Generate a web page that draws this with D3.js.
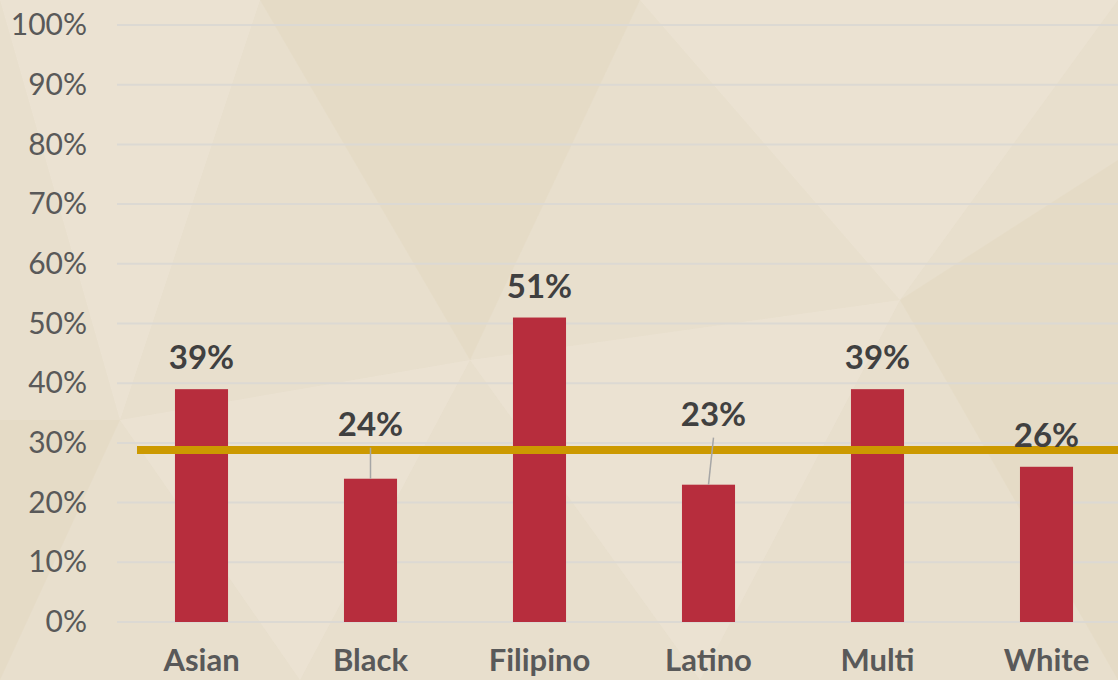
<!DOCTYPE html>
<html>
<head>
<meta charset="UTF-8">
<title>Rates by group</title>
<style>
  html, body { margin: 0; padding: 0; }
  body { width: 1118px; height: 680px; overflow: hidden; background: #e8dfcd; }
  svg { display: block; font-family: "Century Gothic", "URW Gothic", Lato, "DejaVu Sans", sans-serif; }
</style>
</head>
<body>
<svg></svg>
<script src="https://d3js.org/d3.v7.min.js"></script>
<script>
// data
const groups = ["Asian", "Black", "Filipino", "Latino", "Multi", "White"];
const rates = [39, 24, 51, 23, 39, 26];
const average = 28.8;
const yTicks = [0, 10, 20, 30, 40, 50, 60, 70, 80, 90, 100];

const width = 1118, height = 680;
const svg = d3.select("svg").attr("width", width).attr("height", height);

// background with faint facets
const bg = svg.append("g");
bg.append("rect").attr("width", width).attr("height", height).attr("fill", "#e8dfcd");
const facets = [
  [[0, 0], [260, 0], [120, 420]],
  [[260, 0], [640, 0], [470, 360]],
  [[640, 0], [1118, 0], [900, 300]],
  [[0, 420], [120, 420], [0, 680]],
  [[470, 360], [900, 300], [700, 680]],
  [[900, 300], [1118, 160], [1118, 680]],
  [[120, 420], [470, 360], [300, 680]]
];
bg.selectAll("polygon").data(facets).enter().append("polygon")
  .attr("points", d => d.map(p => p.join(",")).join(" "))
  .attr("fill", (d, i) => i % 2 ? "#e2d6bf" : "#efe7d9")
  .attr("opacity", 0.45);

// scales
let x = d3.scaleBand()
  .domain(groups)
  .range([117, 117 + 169 * groups.length])
  .paddingInner(0.686)
  .paddingOuter(0.343);

let y = d3.scaleLinear().domain([0, 100]).range([622, 25]);

// gridlines
svg.append("g").selectAll("line").data(yTicks).enter().append("line")
  .attr("x1", 117).attr("x2", width)
  .attr("y1", d => y(d)).attr("y2", d => y(d))
  .attr("stroke", "#dcd9d3").attr("stroke-width", 2);

// y axis labels
let yAxis = d3.axisLeft(y).tickValues(yTicks).tickFormat(d => d + "%").tickSize(0).tickPadding(0);
let ya = svg.append("g").attr("transform", "translate(87,0)").call(yAxis);
ya.select(".domain").remove();
ya.selectAll("text")
  .attr("font-size", 30).attr("font-weight", 400).attr("fill", "#595959")
  .attr("font-family", "\"Century Gothic\", \"URW Gothic\", Lato, \"DejaVu Sans\", sans-serif");

// bars
svg.append("g").selectAll("rect").data(groups).enter().append("rect")
  .attr("x", d => x(d))
  .attr("width", x.bandwidth())
  .attr("y", (d, i) => y(rates[i]))
  .attr("height", (d, i) => y(0) - y(rates[i]))
  .attr("fill", "#b72d3d");

// average line
svg.append("line")
  .attr("x1", 137).attr("x2", width)
  .attr("y1", y(average)).attr("y2", y(average))
  .attr("stroke", "#cc9900").attr("stroke-width", 8);

// data labels (some lifted above the average line with a leader)
const labelShift = { Black: [0, -23], Latino: [5, -39] };
let lab = svg.append("g");
groups.forEach((g, i) => {
  let cx = x(g) + x.bandwidth() / 2;
  let top = y(rates[i]);
  let s = labelShift[g] || [0, 0];
  let ty = top - 20 + s[1];
  if (s[1] !== 0) {
    lab.append("line")
      .attr("x1", cx + s[0]).attr("y1", ty + 12)
      .attr("x2", cx).attr("y2", top)
      .attr("stroke", "#a6a6a6").attr("stroke-width", 1.5);
  }
  lab.append("text")
    .attr("x", cx + s[0]).attr("y", ty)
    .attr("text-anchor", "middle")
    .attr("font-size", 33).attr("font-weight", "bold")
    .attr("fill", "#404040")
    .text(rates[i] + "%");
});

// category labels
svg.append("g").selectAll("text").data(groups).enter().append("text")
  .attr("x", d => x(d) + x.bandwidth() / 2)
  .attr("y", 671)
  .attr("text-anchor", "middle")
  .attr("font-size", 31).attr("font-weight", "bold")
  .attr("fill", "#595959")
  .text(d => d);
</script>
</body>
</html>
